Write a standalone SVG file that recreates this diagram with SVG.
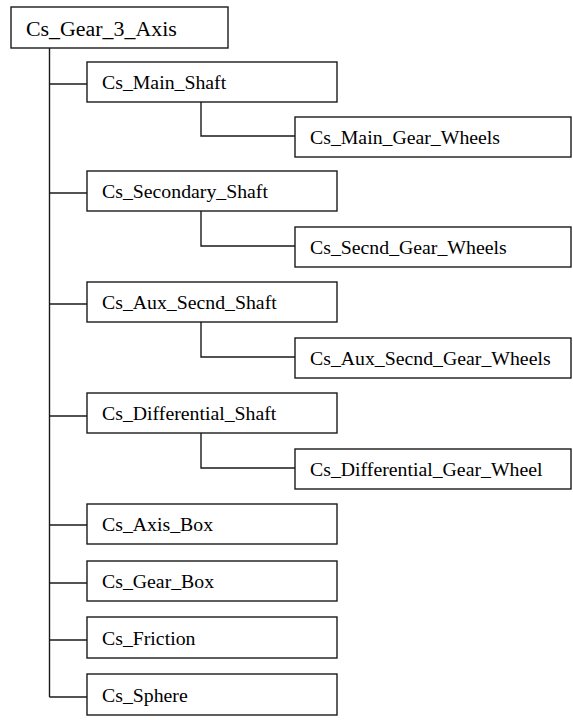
<svg xmlns="http://www.w3.org/2000/svg" width="573" height="720" viewBox="0 0 573 720">
<style>
.box{fill:#fff;stroke:#1a1a1a;stroke-width:1.4}
.lbl{font-family:"Liberation Serif","Times New Roman",serif;font-size:19.8px;fill:#000}
.root{font-size:21.9px}
.conn{fill:none;stroke:#1a1a1a;stroke-width:1.4}
</style>
<rect width="573" height="720" fill="#fff"/>
<g id="connectors" class="conn">
<path d="M49.5,48 V697"/>
<path d="M49.5,84 H87"/>
<path d="M49.5,193 H87"/>
<path d="M49.5,304 H87"/>
<path d="M49.5,416 H87"/>
<path d="M49.5,525 H87"/>
<path d="M49.5,583 H87"/>
<path d="M49.5,640 H87"/>
<path d="M49.5,697 H87"/>
<path d="M201,102 V136 H295"/>
<path d="M201,211 V246 H295"/>
<path d="M201,322 V357 H295"/>
<path d="M201,433 V468 H295"/>
</g>
<g id="root"><rect class="box" x="11" y="7" width="217" height="41"/><text class="lbl root" x="26" y="36">Cs_Gear_3_Axis</text></g>
<g id="main_shaft"><rect class="box" x="87" y="62" width="250" height="40"/><text class="lbl" x="102" y="89">Cs_Main_Shaft</text></g>
<g id="main_gear_wheels"><rect class="box" x="295" y="117" width="276" height="40"/><text class="lbl" x="310" y="144">Cs_Main_Gear_Wheels</text></g>
<g id="secondary_shaft"><rect class="box" x="87" y="171" width="250" height="40"/><text class="lbl" x="102" y="198">Cs_Secondary_Shaft</text></g>
<g id="secnd_gear_wheels"><rect class="box" x="295" y="227" width="276" height="40"/><text class="lbl" x="310" y="254">Cs_Secnd_Gear_Wheels</text></g>
<g id="aux_secnd_shaft"><rect class="box" x="87" y="282" width="250" height="40"/><text class="lbl" x="102" y="309">Cs_Aux_Secnd_Shaft</text></g>
<g id="aux_secnd_gear_wheels"><rect class="box" x="295" y="338" width="276" height="40"/><text class="lbl" x="310" y="365">Cs_Aux_Secnd_Gear_Wheels</text></g>
<g id="differential_shaft"><rect class="box" x="87" y="393" width="250" height="40"/><text class="lbl" x="102" y="420">Cs_Differential_Shaft</text></g>
<g id="differential_gear_wheel"><rect class="box" x="295" y="449" width="276" height="40"/><text class="lbl" x="310" y="476">Cs_Differential_Gear_Wheel</text></g>
<g id="axis_box"><rect class="box" x="87" y="504" width="250" height="40"/><text class="lbl" x="102" y="531">Cs_Axis_Box</text></g>
<g id="gear_box"><rect class="box" x="87" y="561" width="250" height="40"/><text class="lbl" x="102" y="588">Cs_Gear_Box</text></g>
<g id="friction"><rect class="box" x="87" y="617" width="250" height="41"/><text class="lbl" x="102" y="645">Cs_Friction</text></g>
<g id="sphere"><rect class="box" x="87" y="674" width="250" height="41"/><text class="lbl" x="102" y="702">Cs_Sphere</text></g>
</svg>
